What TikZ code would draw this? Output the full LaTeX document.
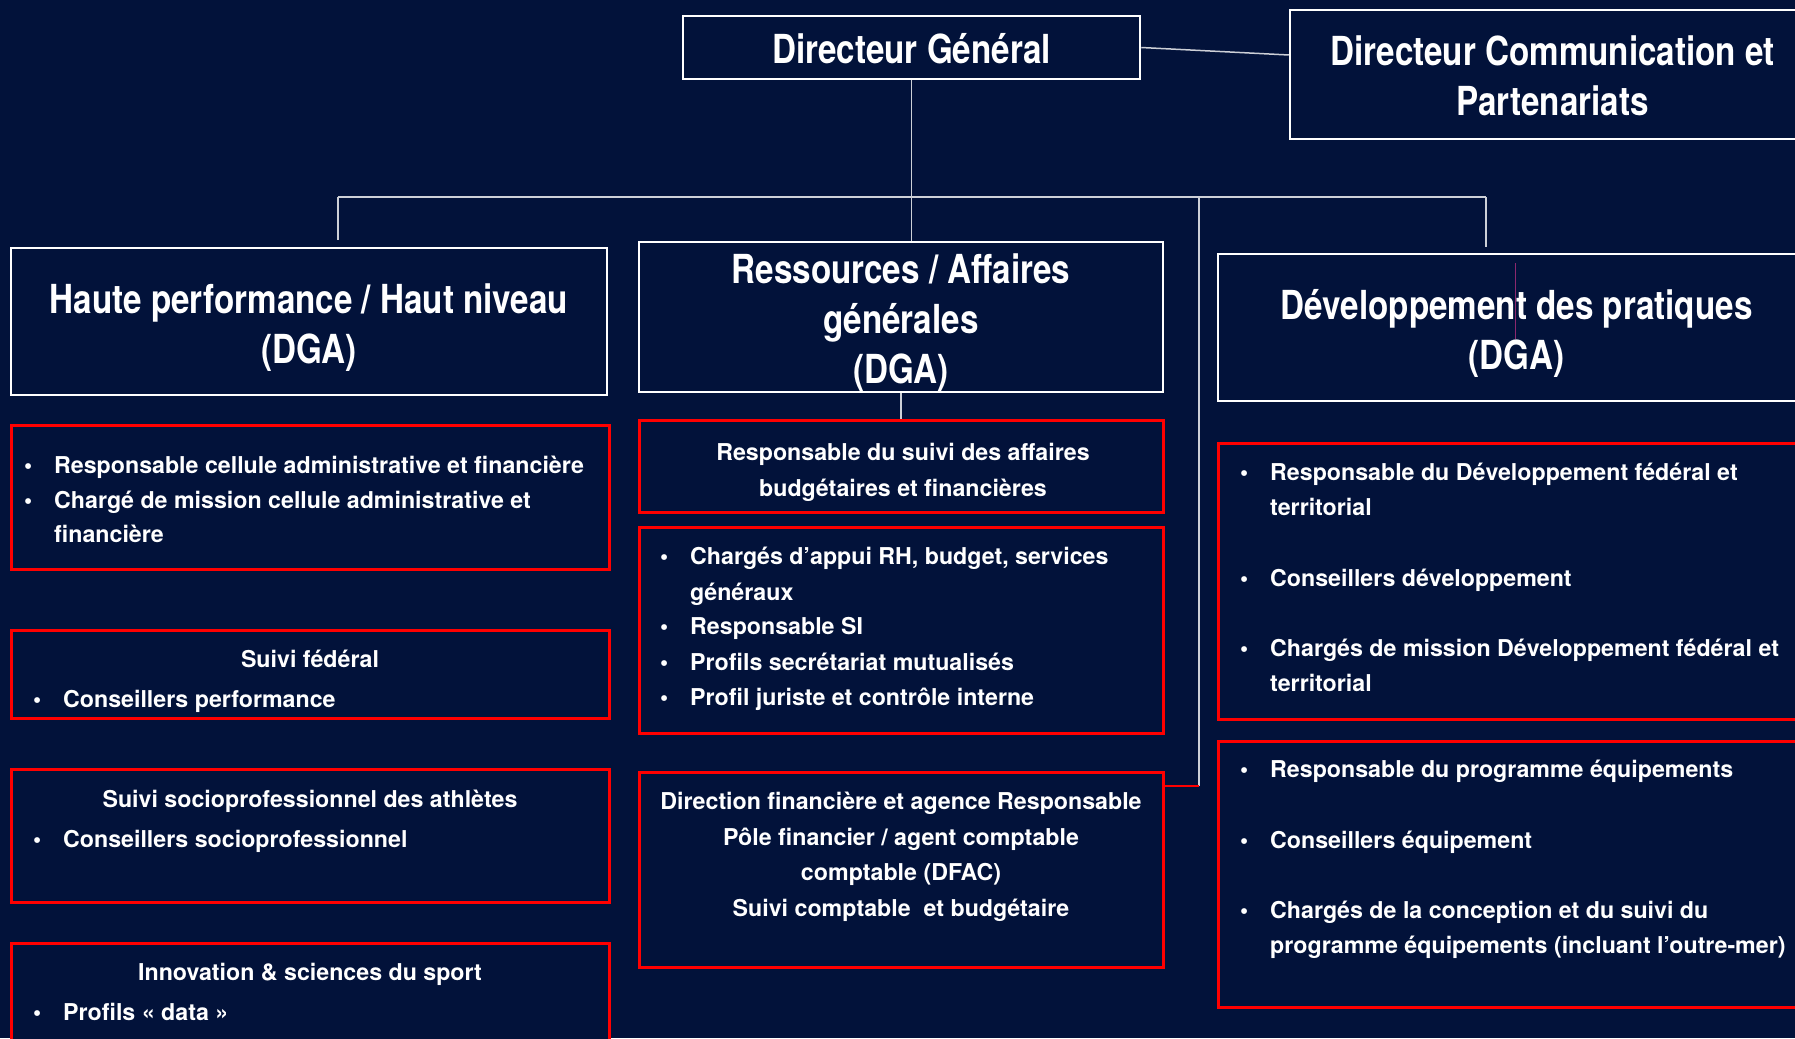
\documentclass[tikz,border=0pt]{standalone}
\usepackage{fontspec}
\setmainfont{TeX Gyre Heros}
\newfontfamily\titlefont{TeX Gyre Heros}[FakeStretch=0.83]
\usepackage{tikz}

\definecolor{navy}{RGB}{2,18,58}
\definecolor{orgred}{RGB}{255,0,0}
\definecolor{orgline}{RGB}{205,208,215}
\definecolor{orgpink}{RGB}{140,40,110}

\newcommand{\blt}{\makebox[30pt][l]{\textbullet}}
\newcommand{\cont}{\hspace*{30pt}}
\newcommand{\tup}{\rule{0pt}{41.4pt}}
\newcommand{\tdn}{\rule[-8.4pt]{0pt}{8.4pt}}

\begin{document}
\begin{tikzpicture}[x=1pt, y=-1pt,
    whitebox/.style={rectangle, draw=white, line width=2.5pt, fill=navy, text=white, align=center, inner sep=0pt,
        font=\titlefont\fontsize{40}{50}\selectfont\bfseries},
    redbox/.style={rectangle, draw=orgred, line width=3pt, fill=navy, inner sep=0pt},
    txt/.style={text=white, inner sep=0pt, font=\fontsize{23.2}{33}\selectfont\bfseries},
    link/.style={draw=orgline, line width=1.5pt}]

        % background
        \useasboundingbox (0,0) rectangle (1795,1038);
        \clip (0,0) rectangle (1795,1038);
        \fill[navy] (0,0) rectangle (1795,1038);

        % direction
        \node[whitebox, minimum width=457pt, minimum height=63pt] (dg) at (911.5,47.5) {\tup Directeur Général\tdn};
        \node[whitebox, minimum width=525pt, minimum height=129pt] (dcp) at (1552.5,74.5) {\tup Directeur Communication et\\Partenariats\tdn};

        % DGA
        \node[whitebox, minimum width=596pt, minimum height=147pt] (hp) at (309,321.5) {\tup Haute performance / Haut niveau\\(DGA)\tdn};
        \node[whitebox, minimum width=524pt, minimum height=146pt] (rag) at (901,317) {\tup Ressources / Affaires\\générales\\(DGA)\tdn};
        \node[whitebox, minimum width=597pt, minimum height=147pt] (dp) at (1516.5,327.5) {\tup Développement des pratiques\\(DGA)\tdn};

        % left column
        \node[redbox, minimum width=598pt, minimum height=144pt] (l1) at (310,497) {};
        \node[redbox, minimum width=598pt, minimum height=88pt] (l2) at (310,674) {};
        \node[redbox, minimum width=598pt, minimum height=133pt] (l3) at (310,835.5) {};
        \node[redbox, minimum width=598pt, minimum height=117pt] (l4) at (310,1001.5) {};

        \foreach \i/\y/\lbl in {1/473/{\blt Responsable cellule administrative et financière},
                                2/508/{\blt Chargé de mission cellule administrative et},
                                3/542/{\cont financière}}
            \node[txt, anchor=base west] (l1t\i) at (24,\y) {\lbl};

        \node[txt, anchor=base] (l2a) at (310,667) {Suivi fédéral};
        \node[txt, anchor=base west] (l2b) at (33,707) {\blt Conseillers performance};
        \node[txt, anchor=base] (l3a) at (310,807) {Suivi socioprofessionnel des athlètes};
        \node[txt, anchor=base west] (l3b) at (33,847) {\blt Conseillers socioprofessionnel};
        \node[txt, anchor=base] (l4a) at (310,980) {Innovation \& sciences du sport};
        \node[txt, anchor=base west] (l4b) at (33,1020) {\blt Profils « data »};

        % middle column
        \node[redbox, minimum width=524pt, minimum height=92pt] (m1) at (901,466) {};
        \node[redbox, minimum width=524pt, minimum height=206pt] (m2) at (901,630) {};
        \node[redbox, minimum width=524pt, minimum height=195pt] (m3) at (901,869.5) {};

        \node[txt, anchor=base] (m1a) at (903,460) {Responsable du suivi des affaires};
        \node[txt, anchor=base] (m1b) at (903,496) {budgétaires et financières};

        \foreach \i/\y/\lbl in {1/564/{\blt Chargés d’appui RH, budget, services},
                                2/600/{\cont généraux},
                                3/634/{\blt Responsable SI},
                                4/670/{\blt Profils secrétariat mutualisés},
                                5/705/{\blt Profil juriste et contrôle interne}}
            \node[txt, anchor=base west] (m2t\i) at (660,\y) {\lbl};

        \foreach \i/\y/\lbl in {1/809/{Direction financière et agence Responsable},
                                2/845/{Pôle financier / agent comptable},
                                3/880/{comptable (DFAC)},
                                4/916/{Suivi comptable~ et budgétaire}}
            \node[txt, anchor=base] (m3t\i) at (901,\y) {\lbl};

        % right column
        \node[redbox, minimum width=597pt, minimum height=276pt] (r1) at (1516.5,581) {};
        \node[redbox, minimum width=597pt, minimum height=266pt] (r2) at (1516.5,874) {};

        \foreach \i/\y/\lbl in {1/480/{\blt Responsable du Développement fédéral et},
                                2/515/{\cont territorial},
                                3/586/{\blt Conseillers développement},
                                4/656/{\blt Chargés de mission Développement fédéral et},
                                5/691/{\cont territorial}}
            \node[txt, anchor=base west] (r1t\i) at (1240,\y) {\lbl};

        \foreach \i/\y/\lbl in {1/777/{\blt Responsable du programme équipements},
                                2/848/{\blt Conseillers équipement},
                                3/918/{\blt Chargés de la conception et du suivi du},
                                4/953/{\cont programme équipements (incluant l’outre-mer)}}
            \node[txt, anchor=base west] (r2t\i) at (1240,\y) {\lbl};

        % links
        \coordinate (hub) at (911.5,197);
        \coordinate (hpin) at (338,197);
        \coordinate (dfin) at (1199,197);
        \coordinate (dpin) at (1486,197);
        \coordinate (m3in) at (1199,786);

        \draw[link] (dg.east) -- ([yshift=19.5pt]dcp.west);
        \draw[link] (dg.south) -- (hub);
        \draw[link] (hpin) -- (dpin);
        \draw[link] (hpin) -- ++(0,43);
        \draw[link] (hub) -- (hub |- rag.north);
        \draw[link] (dpin) -- ++(0,50);
        \draw[link] (dfin) -- (m3in);
        \draw[orgred, line width=1.5pt] (m3in) -- (m3.east |- m3in);
        \draw[link] (rag.south) -- (m1.north);
        \draw[orgpink, line width=1pt] (1515,263) -- (1515,339);

\end{tikzpicture}
\end{document}
